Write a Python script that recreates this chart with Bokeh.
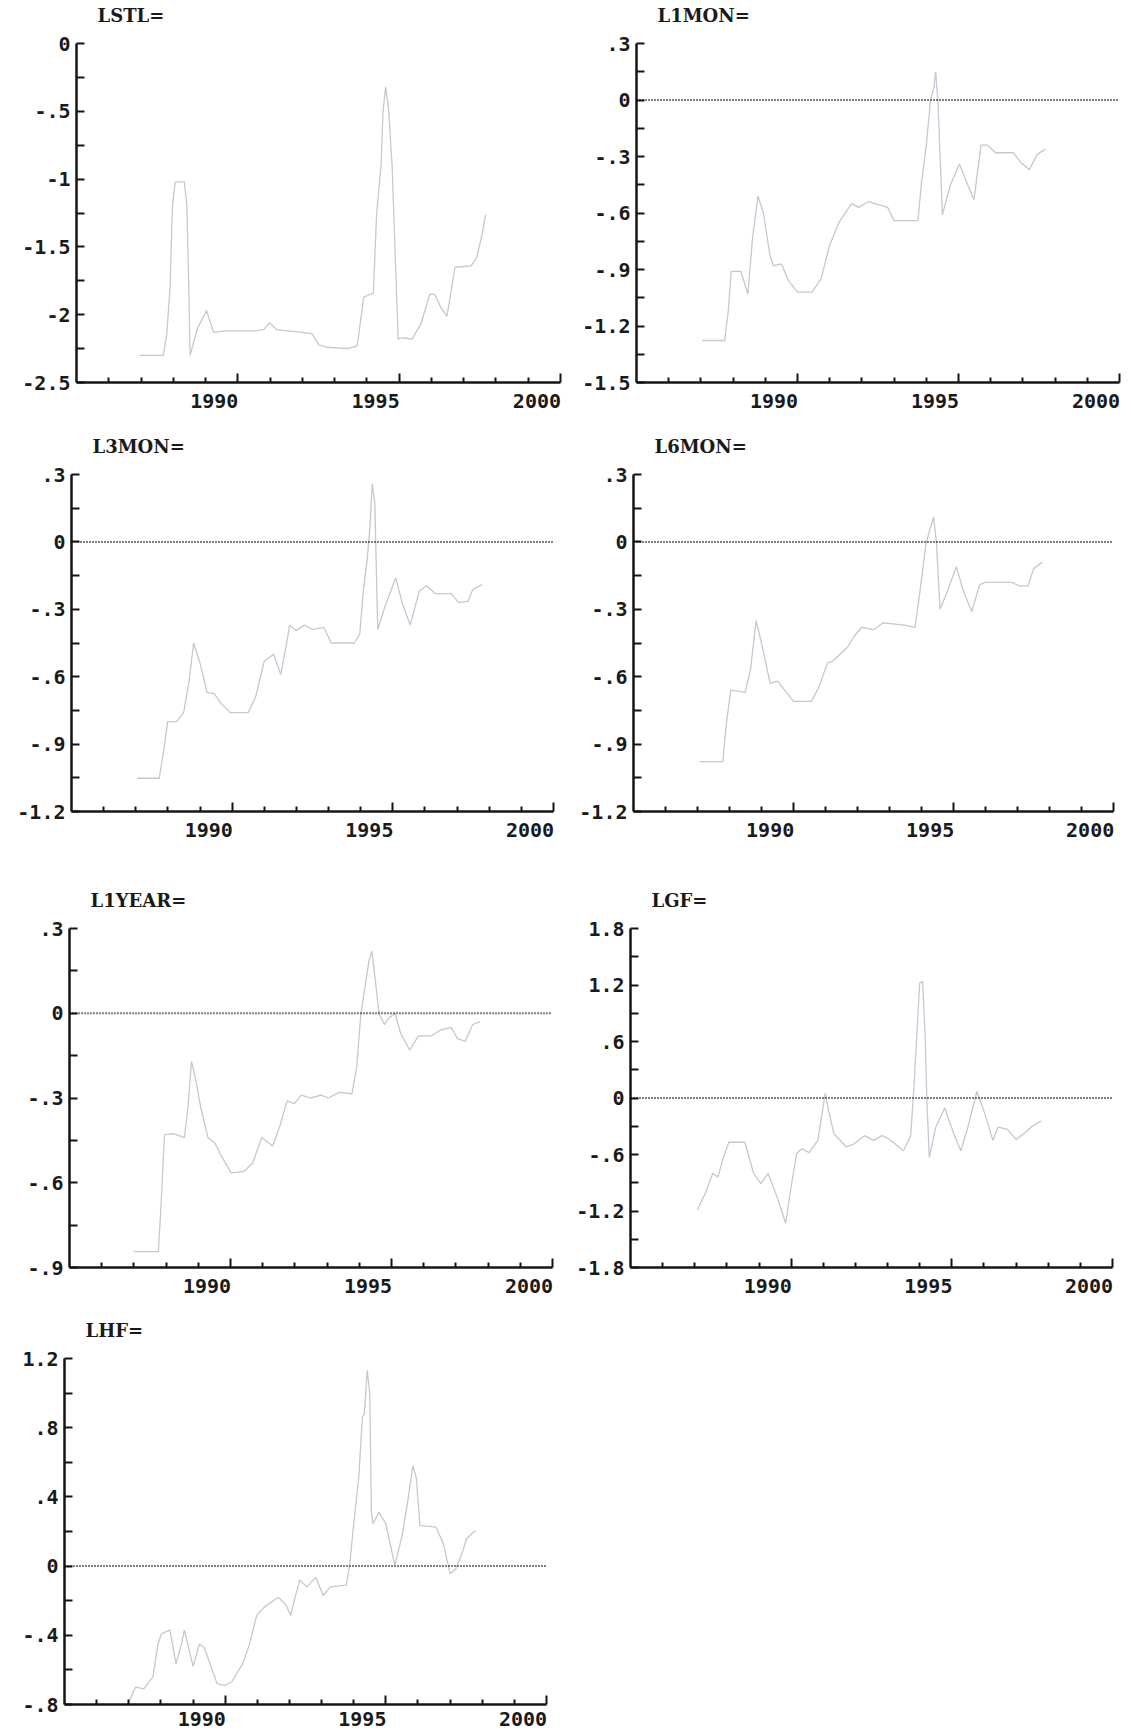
from bokeh.plotting import figure
from bokeh.models import FixedTicker, Span, LinearAxis, Range1d, Title
from bokeh.layouts import column, row
from bokeh.embed import file_html
from bokeh.resources import INLINE

# ---------------- data ----------------
x_start_year, x_end_year = 1985, 2000
x_tick_years = [1990, 1995, 2000]
x_tick_labels = ["1990", "1995", "2000"]
x_minor_years = [1986, 1987, 1988, 1989, 1991, 1992, 1993, 1994, 1996, 1997, 1998, 1999]

lstl_t = [1986.96, 1987.69, 1987.8, 1987.9, 1987.97, 1988.06, 1988.34, 1988.42, 1988.48, 1988.52,
          1988.75, 1989.03, 1989.25, 1989.6, 1990.5, 1990.8, 1990.98, 1991.2, 1992.0, 1992.3,
          1992.5, 1992.75, 1993.4, 1993.7, 1993.9, 1994.2, 1994.3, 1994.44, 1994.5, 1994.58,
          1994.67, 1994.78, 1994.89, 1994.97, 1995.1, 1995.4, 1995.67, 1995.95, 1996.1, 1996.3,
          1996.48, 1996.56, 1996.73, 1997.23, 1997.4, 1997.57, 1997.68]
lstl_v = [-2.30, -2.30, -2.14, -1.80, -1.21, -1.02, -1.02, -1.19, -1.80, -2.30,
          -2.10, -1.97, -2.13, -2.12, -2.12, -2.11, -2.06, -2.11, -2.13, -2.14,
          -2.22, -2.24, -2.25, -2.23, -1.87, -1.84, -1.26, -0.89, -0.50, -0.32,
          -0.48, -0.89, -1.65, -2.18, -2.17, -2.18, -2.07, -1.85, -1.85, -1.95,
          -2.01, -1.90, -1.65, -1.64, -1.58, -1.41, -1.26]
lstl_yticks = [0, -0.5, -1, -1.5, -2, -2.5]
lstl_ylabels = ["0", "-.5", "-1", "-1.5", "-2", "-2.5"]

l1mon_t = [1987.04, 1987.74, 1987.85, 1987.94, 1988.24, 1988.46, 1988.6, 1988.77, 1988.94, 1989.14,
           1989.25, 1989.5, 1989.72, 1990.0, 1990.45, 1990.73, 1991.0, 1991.29, 1991.68, 1991.9,
           1992.2, 1992.8, 1993.0, 1993.74, 1993.85, 1994.0, 1994.13, 1994.24, 1994.29, 1994.36,
           1994.5, 1994.75, 1995.03, 1995.26, 1995.48, 1995.7, 1995.9, 1996.15, 1996.7, 1996.93,
           1997.2, 1997.44, 1997.7]
l1mon_v = [-1.277, -1.277, -1.12, -0.91, -0.91, -1.03, -0.74, -0.51, -0.60, -0.82,
           -0.88, -0.87, -0.96, -1.02, -1.02, -0.95, -0.77, -0.65, -0.55, -0.57,
           -0.54, -0.57, -0.64, -0.64, -0.44, -0.24, 0.0, 0.07, 0.15, 0.0,
           -0.61, -0.45, -0.34, -0.44, -0.53, -0.24, -0.24, -0.28, -0.28, -0.33,
           -0.37, -0.29, -0.26]
l1mon_yticks = [0.3, 0, -0.3, -0.6, -0.9, -1.2, -1.5]
l1mon_ylabels = [".3", "0", "-.3", "-.6", "-.9", "-1.2", "-1.5"]

l3mon_t = [1987.04, 1987.73, 1987.87, 1987.99, 1988.27, 1988.49, 1988.66, 1988.8, 1989.0, 1989.22,
           1989.44, 1989.66, 1989.94, 1990.5, 1990.73, 1991.0, 1991.29, 1991.51, 1991.62, 1991.79,
           1992.0, 1992.24, 1992.5, 1992.85, 1993.08, 1993.8, 1993.97, 1994.08, 1994.2, 1994.28,
           1994.36, 1994.44, 1994.53, 1994.75, 1995.09, 1995.31, 1995.54, 1995.82, 1996.04, 1996.32,
           1996.82, 1997.05, 1997.33, 1997.5, 1997.78]
l3mon_v = [-1.052, -1.052, -0.93, -0.80, -0.80, -0.76, -0.62, -0.45, -0.54, -0.67,
           -0.675, -0.72, -0.76, -0.76, -0.69, -0.53, -0.50, -0.59, -0.51, -0.37,
           -0.395, -0.37, -0.39, -0.38, -0.45, -0.45, -0.41, -0.22, -0.08, 0.05,
           0.26, 0.17, -0.39, -0.29, -0.16, -0.28, -0.37, -0.22, -0.195, -0.23,
           -0.23, -0.27, -0.265, -0.21, -0.19]
l3mon_yticks = [0.3, 0, -0.3, -0.6, -0.9, -1.2]
l3mon_ylabels = [".3", "0", "-.3", "-.6", "-.9", "-1.2"]

l6mon_t = [1987.07, 1987.79, 1987.9, 1988.04, 1988.49, 1988.66, 1988.83, 1989.0, 1989.27, 1989.5,
           1989.78, 1990.0, 1990.56, 1990.78, 1991.06, 1991.23, 1991.68, 1991.9, 1992.13, 1992.52,
           1992.8, 1993.47, 1993.8, 1993.97, 1994.14, 1994.25, 1994.38, 1994.47, 1994.58, 1994.81,
           1995.09, 1995.31, 1995.57, 1995.82, 1995.99, 1996.83, 1997.05, 1997.33, 1997.5, 1997.78]
l6mon_v = [-0.978, -0.978, -0.81, -0.66, -0.67, -0.565, -0.35, -0.45, -0.63, -0.62,
           -0.67, -0.71, -0.71, -0.65, -0.54, -0.53, -0.47, -0.42, -0.38, -0.39,
           -0.36, -0.37, -0.38, -0.20, -0.007, 0.05, 0.11, -0.01, -0.30, -0.22,
           -0.11, -0.22, -0.31, -0.19, -0.18, -0.18, -0.196, -0.196, -0.12, -0.09]
l6mon_yticks = [0.3, 0, -0.3, -0.6, -0.9, -1.2]
l6mon_ylabels = [".3", "0", "-.3", "-.6", "-.9", "-1.2"]

l1year_t = [1987.0, 1987.76, 1987.84, 1987.95, 1988.23, 1988.57, 1988.68, 1988.79, 1988.93, 1989.07,
            1989.3, 1989.52, 1989.69, 1990.02, 1990.41, 1990.69, 1990.97, 1991.31, 1991.53, 1991.76,
            1991.98, 1992.2, 1992.48, 1992.82, 1993.04, 1993.38, 1993.77, 1993.92, 1994.05, 1994.16,
            1994.3, 1994.39, 1994.5, 1994.61, 1994.78, 1994.89, 1995.11, 1995.28, 1995.56, 1995.84,
            1996.23, 1996.51, 1996.85, 1997.05, 1997.29, 1997.52, 1997.74]
l1year_v = [-0.844, -0.844, -0.685, -0.43, -0.426, -0.44, -0.33, -0.17, -0.24, -0.33,
            -0.44, -0.46, -0.50, -0.565, -0.56, -0.53, -0.44, -0.47, -0.40, -0.31,
            -0.32, -0.29, -0.30, -0.29, -0.30, -0.28, -0.285, -0.19, 0.0, 0.08,
            0.186, 0.22, 0.115, 0.0, -0.04, -0.02, 0.0, -0.07, -0.13, -0.08,
            -0.08, -0.06, -0.05, -0.09, -0.10, -0.04, -0.03]
l1year_yticks = [0.3, 0, -0.3, -0.6, -0.9]
l1year_ylabels = [".3", "0", "-.3", "-.6", "-.9"]

lgf_t = [1987.08, 1987.33, 1987.56, 1987.72, 1987.89, 1988.06, 1988.56, 1988.83, 1989.06, 1989.28,
         1989.56, 1989.83, 1990.0, 1990.17, 1990.33, 1990.56, 1990.83, 1990.94, 1991.06, 1991.17,
         1991.33, 1991.72, 1991.94, 1992.28, 1992.56, 1992.83, 1993.06, 1993.5, 1993.72, 1993.83,
         1994.0, 1994.09, 1994.17, 1994.22, 1994.3, 1994.5, 1994.78, 1995.06, 1995.28, 1995.5,
         1995.78, 1996.0, 1996.28, 1996.44, 1996.72, 1997.0, 1997.28, 1997.5, 1997.78]
lgf_v = [-1.19, -1.01, -0.80, -0.84, -0.63, -0.47, -0.47, -0.80, -0.91, -0.80,
         -1.05, -1.33, -0.94, -0.59, -0.54, -0.58, -0.45, -0.21, 0.05, -0.14,
         -0.38, -0.52, -0.49, -0.40, -0.45, -0.40, -0.44, -0.56, -0.40, 0.17,
         1.22, 1.24, 0.66, 0.0, -0.63, -0.31, -0.105, -0.38, -0.56, -0.31,
         0.07, -0.14, -0.45, -0.31, -0.33, -0.44, -0.37, -0.30, -0.245]
lgf_yticks = [1.8, 1.2, 0.6, 0, -0.6, -1.2, -1.8]
lgf_ylabels = ["1.8", "1.2", ".6", "0", "-.6", "-1.2", "-1.8"]

lhf_t = [1987.02, 1987.21, 1987.47, 1987.75, 1987.91, 1988.02, 1988.28, 1988.47, 1988.64, 1988.73,
         1988.86, 1989.0, 1989.2, 1989.35, 1989.75, 1989.98, 1990.2, 1990.54, 1990.76, 1990.98,
         1991.2, 1991.65, 1991.88, 1992.04, 1992.15, 1992.32, 1992.54, 1992.82, 1993.05, 1993.27,
         1993.77, 1993.88, 1993.99, 1994.16, 1994.27, 1994.33, 1994.42, 1994.5, 1994.55, 1994.6,
         1994.78, 1995.0, 1995.28, 1995.5, 1995.67, 1995.84, 1995.95, 1996.06, 1996.56, 1996.79,
         1997.0, 1997.18, 1997.4, 1997.51, 1997.79]
lhf_v = [-0.777, -0.70, -0.71, -0.64, -0.45, -0.39, -0.37, -0.565, -0.45, -0.37,
         -0.47, -0.58, -0.45, -0.47, -0.68, -0.69, -0.67, -0.565, -0.45, -0.285,
         -0.24, -0.18, -0.22, -0.285, -0.20, -0.08, -0.12, -0.064, -0.17, -0.12,
         -0.11, 0.0135, 0.226, 0.515, 0.862, 0.88, 1.13, 1.0, 0.32, 0.245,
         0.31, 0.245, 0.004, 0.17, 0.36, 0.58, 0.51, 0.235, 0.225, 0.13,
         -0.044, -0.015, 0.09, 0.158, 0.206]
lhf_yticks = [1.2, 0.8, 0.4, 0, -0.4, -0.8]
lhf_ylabels = ["1.2", ".8", ".4", "0", "-.4", "-.8"]

# ---------------- styling / layout ----------------
LINE_COLOR = "#cbc4d2"
AXIS_COLOR = "#151515"
TEXT_COLOR = "#1a1a1a"
TICK_FONT = "DejaVu Sans Mono"
TITLE_FONT = "DejaVu Serif"
LABEL_SHIFT = 0.73  # x labels sit left of their tick in the original


def make_panel(name, t, v, yticks, ylabels, w, h, L, R, T, B, lab_standoff=5):
    ylo, yhi = min(yticks), max(yticks)
    p = figure(width=w, height=h, min_border_left=L, min_border_right=R,
               min_border_top=T, min_border_bottom=B,
               x_range=Range1d(x_start_year, x_end_year), y_range=Range1d(ylo, yhi),
               toolbar_location=None, tools="", output_backend="svg")
    p.grid.visible = False
    p.outline_line_color = None
    p.background_fill_color = "white"
    p.border_fill_color = "white"

    # white spacer next to the frame, then the title above it
    spacer = Title(text=" ", text_font_size="1px", text_color="white", standoff=15)
    p.add_layout(spacer, "above")
    ttl = Title(text=name + "=", align="left", offset=21, text_font=TITLE_FONT,
                text_font_style="bold", text_font_size="18px", text_color=TEXT_COLOR,
                standoff=0)
    p.add_layout(ttl, "above")

    # y axis
    ya = p.yaxis[0]
    minors = [(yticks[i] + yticks[i + 1]) / 2 for i in range(len(yticks) - 1)]
    ya.ticker = FixedTicker(ticks=yticks, minor_ticks=minors)
    ya.major_label_overrides = {tv: lab for tv, lab in zip(yticks, ylabels)}
    ya.axis_line_width = 2.5
    ya.axis_line_color = AXIS_COLOR
    ya.major_tick_in = 8
    ya.major_tick_out = 0
    ya.minor_tick_in = 8
    ya.minor_tick_out = 0
    ya.major_tick_line_width = 2
    ya.minor_tick_line_width = 2
    ya.major_tick_line_color = AXIS_COLOR
    ya.minor_tick_line_color = AXIS_COLOR
    ya.major_label_text_font = TICK_FONT
    ya.major_label_text_font_style = "bold"
    ya.major_label_text_font_size = "20px"
    ya.major_label_text_color = TEXT_COLOR
    ya.major_label_standoff = 6

    # x axis: ticks
    xa = p.xaxis[0]
    xa.ticker = FixedTicker(ticks=x_tick_years, minor_ticks=x_minor_years)
    xa.major_label_overrides = {yr: "" for yr in x_tick_years}
    xa.major_label_text_font_size = "1px"
    xa.major_label_standoff = 0
    xa.axis_line_width = 2.5
    xa.axis_line_color = AXIS_COLOR
    xa.major_tick_in = 9
    xa.major_tick_out = 0
    xa.minor_tick_in = 5
    xa.minor_tick_out = 0
    xa.major_tick_line_width = 2
    xa.minor_tick_line_width = 2
    xa.major_tick_line_color = AXIS_COLOR
    xa.minor_tick_line_color = AXIS_COLOR

    # x axis: labels (offset left of the ticks, as in the original)
    lab_pos = [yr - LABEL_SHIFT for yr in x_tick_years]
    la = LinearAxis(ticker=FixedTicker(ticks=lab_pos, minor_ticks=[]),
                    major_label_overrides={pos: lab for pos, lab in zip(lab_pos, x_tick_labels)})
    la.axis_line_color = None
    la.major_tick_line_color = None
    la.minor_tick_line_color = None
    la.major_label_text_font = TICK_FONT
    la.major_label_text_font_style = "bold"
    la.major_label_text_font_size = "20px"
    la.major_label_text_color = TEXT_COLOR
    la.major_label_standoff = lab_standoff
    p.add_layout(la, "below")

    if ylo < 0 < yhi:
        p.add_layout(Span(location=0, dimension="width", line_color="#000000",
                          line_width=2, line_dash="1 2"))

    p.line(t, v, line_color=LINE_COLOR, line_width=1.3)
    return p


p1 = make_panel("LSTL", lstl_t, lstl_v, lstl_yticks, lstl_ylabels, 565, 430, 76, 5, 42, 48)
p2 = make_panel("L1MON", l1mon_t, l1mon_v, l1mon_yticks, l1mon_ylabels, 566, 430, 71, 12, 43, 45)
p3 = make_panel("L3MON", l3mon_t, l3mon_v, l3mon_yticks, l3mon_ylabels, 565, 450, 71, 12, 43, 68)
p4 = make_panel("L6MON", l6mon_t, l6mon_v, l6mon_yticks, l6mon_ylabels, 566, 450, 68, 18, 44, 69)
p5 = make_panel("L1YEAR", l1year_t, l1year_v, l1year_yticks, l1year_ylabels, 565, 430, 69, 13, 48, 42)
p6 = make_panel("LGF", lgf_t, lgf_v, lgf_yticks, lgf_ylabels, 566, 430, 65, 19, 44, 43)
p7 = make_panel("LHF", lhf_t, lhf_v, lhf_yticks, lhf_ylabels, 565, 421, 64, 19, 48, 27, lab_standoff=1)

layout = column(row(p1, p2), row(p3, p4), row(p5, p6), row(p7))

open("out.html", "w").write(file_html(layout, INLINE))
